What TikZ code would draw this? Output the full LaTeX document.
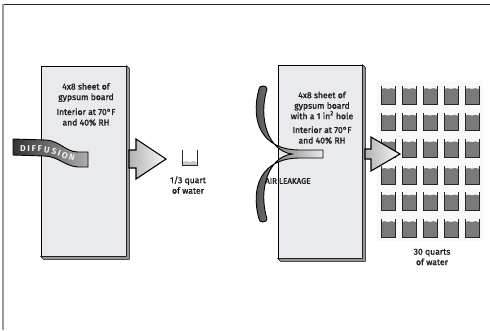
\documentclass[tikz,border=0pt]{standalone}
\usepackage{fontspec}
\setmainfont{Fira Sans}[FakeBold=1.6]
\newfontfamily\ribbonfamily{Fira Sans}
\usetikzlibrary{decorations.text}

\definecolor{boardfill}{RGB}{233,234,238}
\definecolor{boardedge}{RGB}{150,150,150}
\definecolor{inktext}{RGB}{30,30,30}
\definecolor{waterfill}{RGB}{122,122,122}
\newcommand\ribbonfont{\ribbonfamily\bfseries\fontsize{8.6}{8.6}\selectfont}

\begin{document}
\begin{tikzpicture}[x=1pt,y=-1pt,
  board/.style={draw=black, line width=0.8pt, fill=boardfill, inner sep=0pt},
  boardside/.style={draw=black, line width=0.6pt, fill=boardedge, line join=round},
  label/.style={font=\fontsize{8.6}{10.5}\selectfont, text=inktext, align=center, inner sep=0pt},
  caps/.style={font=\fontsize{8}{9}\selectfont, text=inktext, inner sep=0pt},
  blockarrow/.style={draw=black, line width=1.1pt, line join=miter, left color=gray!60, right color=gray!6},
  tube/.style={draw=black, line width=0.9pt, left color=black!72, right color=black!8},
  cupline/.style={draw=black!85, line width=0.6pt},
  ribbontext/.style={decorate, decoration={text along path, text align={fit to path},
    text={|\ribbonfont\color{#1}|DIFFUSION}}},
]
\useasboundingbox (0,0) rectangle (490,330);

% frame
\draw[line width=0.8pt, black!85] (3,4) -- (490,4);
\draw[line width=2pt, gray!80] (3,4) -- (3,330);

% ---------- left board: diffusion ----------
\node[board, minimum width=85pt, minimum height=190pt] (boardA) at (83.5,161) {};
\path[boardside] (boardA.north east) -- ++(3,3) -- ([shift={(3,3)}]boardA.south east)
  -- ([shift={(3,3)}]boardA.south west) -- (boardA.south west) -- (boardA.south east) -- cycle;

\node[label] (textA1) at (86,92.5) {4x8 sheet of\\gypsum board};
\node[label] (textA2) at (86,117) {Interior at 70°F\\and 40\% RH};

% ribbon
\path[tube, left color=black!80, right color=black!32]
  (13,139) -- (46,140) .. controls (60,141) and (66,152) .. (78,152) -- (88,152)
  -- (88,167) -- (78,167) .. controls (64,166) and (58,156) .. (44,156) -- (13,155) -- cycle;
\path[ribbontext=gray!12]
  (20,151.5) -- (42,152) .. controls (53,152.5) and (60,158) .. (74,161);

% outflow arrow
\draw[blockarrow] (129,150) -- (136,150) -- (136,139) -- (166,159) -- (136,179)
  -- (136,168) -- (129,168) -- cycle;

% small cup
\fill[gray!45] (182.3,162) sin (186,161) cos (189.5,162) sin (193,161) cos (196.7,162)
  -- (196.7,165) -- (182.3,165) -- cycle;
\draw[cupline] (182,150) -- (182,165) -- (197,165) -- (197,150);
\node[label] (cupA) at (188,185) {1/3 quart\\of water};

% ---------- right board: air leakage ----------
\node[board, minimum width=84pt, minimum height=193pt] (boardB) at (320,161.5) {};
\path[boardside] (boardB.north east) -- ++(3,3) -- ([shift={(3,3)}]boardB.south east)
  -- ([shift={(3,3)}]boardB.south west) -- (boardB.south west) -- (boardB.south east) -- cycle;

\node[label] (textB1) at (322,105.5) {4x8 sheet of\\gypsum board\\with a 1 in\textsuperscript{2} hole};
\node[label] (textB2) at (322,135) {Interior at 70°F\\and 40\% RH};

% leakage tubes
\path[tube]
  (259,89) .. controls (259,85) and (267,85) .. (267,89)
  .. controls (258,118) and (268,151) .. (292,154)
  .. controls (268,157) and (258,190) .. (267,219)
  .. controls (267,223) and (259,223) .. (259,219)
  .. controls (250,186) and (262,158) .. (300,158)
  -- (323,158) -- (323,150) -- (300,150)
  .. controls (262,150) and (250,122) .. (259,89) -- cycle;
\node[caps, anchor=west] (leak) at (265,181) {AIR LEAKAGE};

% thirty quarts
\fill[gray!5] (377,81) rectangle (483,241);
\foreach \c in {0,...,4} {
  \foreach \r in {0,...,5} {
    \begin{scope}[shift={(381+21*\c,86+26.6*\r)}]
      \fill[waterfill] (0,3) sin (3.5,2.2) cos (7,3) sin (10.5,2.2) cos (14,3)
        -- (14,18) -- (0,18) -- cycle;
      \draw[cupline] (0,0) -- (0,18) -- (14,18) -- (14,0);
    \end{scope}
  }
}
\node[label] (cupB) at (432,257) {30 quarts\\of water};

% outflow arrow
\draw[blockarrow] (365,149) -- (371,149) -- (371,137) -- (400,154) -- (371,171)
  -- (371,159) -- (365,159) -- cycle;
\end{tikzpicture}
\end{document}
